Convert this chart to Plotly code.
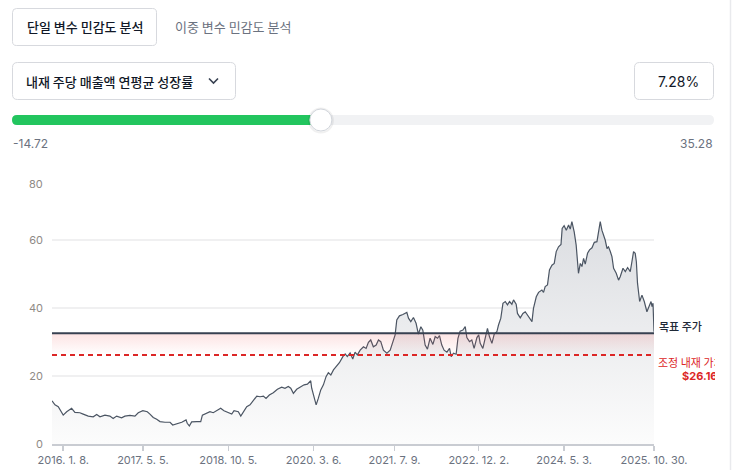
import plotly.graph_objects as go

# ---------------- data ----------------
DATES = [
    "2015-11-01", "2015-11-19", "2015-12-09", "2015-12-29", "2016-01-08", "2016-01-29", "2016-02-28",
    "2016-03-19", "2016-04-18", "2016-05-08", "2016-06-08", "2016-07-08", "2016-07-29", "2016-08-18",
    "2016-09-17", "2016-10-17", "2016-11-06", "2016-11-27", "2016-12-27", "2017-01-16", "2017-02-16",
    "2017-03-18", "2017-04-07", "2017-05-05", "2017-06-01", "2017-06-17", "2017-07-07", "2017-07-28",
    "2017-08-17", "2017-09-16", "2017-10-17", "2017-11-02", "2017-11-26", "2017-12-27", "2018-01-22",
    "2018-01-29", "2018-02-11", "2018-02-25", "2018-03-28", "2018-04-21", "2018-05-01", "2018-05-27",
    "2018-06-16", "2018-07-06", "2018-07-27", "2018-08-20", "2018-09-09", "2018-10-05", "2018-10-26",
    "2018-11-09", "2018-12-05", "2018-12-20", "2019-01-04", "2019-01-25", "2019-02-14", "2019-03-02",
    "2019-03-27", "2019-04-16", "2019-05-06", "2019-05-22", "2019-06-11", "2019-07-05", "2019-07-30",
    "2019-08-25", "2019-09-14", "2019-10-04", "2019-10-19", "2019-11-04", "2019-11-24", "2019-12-14",
    "2020-01-08", "2020-01-28", "2020-02-17", "2020-02-23", "2020-03-08", "2020-03-21", "2020-04-03",
    "2020-04-18", "2020-05-04", "2020-05-20", "2020-06-03", "2020-06-18", "2020-07-04", "2020-07-24",
    "2020-08-09", "2020-08-30", "2020-09-13", "2020-09-26", "2020-10-13", "2020-10-29", "2020-11-12",
    "2020-11-26", "2020-12-13", "2021-01-02", "2021-01-18", "2021-02-01", "2021-02-15", "2021-03-03",
    "2021-03-20", "2021-04-03", "2021-04-17", "2021-05-03", "2021-05-24", "2021-06-13", "2021-06-29",
    "2021-07-13", "2021-07-23", "2021-08-08", "2021-08-29", "2021-09-22", "2021-10-02", "2021-10-16",
    "2021-11-01", "2021-11-17", "2021-12-01", "2021-12-16", "2021-12-28", "2022-01-11", "2022-01-25",
    "2022-02-10", "2022-02-27", "2022-03-13", "2022-03-27", "2022-04-08", "2022-04-22", "2022-05-06",
    "2022-05-23", "2022-06-08", "2022-06-18", "2022-07-02", "2022-07-18", "2022-07-29", "2022-08-11",
    "2022-08-28", "2022-09-11", "2022-09-21", "2022-10-07", "2022-10-21", "2022-11-04", "2022-11-21",
    "2022-12-02", "2022-12-11", "2022-12-27", "2023-01-10", "2023-01-24", "2023-02-05", "2023-02-20",
    "2023-03-06", "2023-03-22", "2023-04-01", "2023-04-15", "2023-04-28", "2023-05-12", "2023-05-25",
    "2023-06-07", "2023-06-21", "2023-07-01", "2023-07-17", "2023-07-25", "2023-08-11", "2023-08-27",
    "2023-09-10", "2023-09-24", "2023-10-10", "2023-10-21", "2023-10-30", "2023-11-16", "2023-11-30",
    "2023-12-20", "2023-12-30", "2024-01-09", "2024-01-23", "2024-02-04", "2024-02-19", "2024-03-04",
    "2024-03-16", "2024-03-30", "2024-04-14", "2024-04-21", "2024-05-03", "2024-05-16", "2024-05-30",
    "2024-06-09", "2024-06-19", "2024-07-03", "2024-07-15", "2024-07-23", "2024-07-29", "2024-08-09",
    "2024-08-19", "2024-08-29", "2024-09-08", "2024-09-22", "2024-10-04", "2024-10-19", "2024-11-02",
    "2024-11-18", "2024-11-28", "2024-12-08", "2024-12-18", "2024-12-28", "2025-01-07", "2025-01-18",
    "2025-01-27", "2025-02-07", "2025-02-17", "2025-02-27", "2025-03-15", "2025-03-29", "2025-04-08",
    "2025-04-25", "2025-05-09", "2025-05-23", "2025-06-08", "2025-06-18", "2025-06-28", "2025-07-08",
    "2025-07-15", "2025-07-22", "2025-08-04", "2025-08-18", "2025-09-01", "2025-09-17", "2025-10-03",
    "2025-10-12", "2025-10-18", "2025-10-24", "2025-10-30",
]
PRICE = [
    12.7, 11.5, 11.0, 9.5, 8.5, 9.5, 10.5,
    9.3, 9.2, 8.8, 8.2, 8.0, 8.7, 8.0,
    8.5, 8.2, 7.5, 8.2, 7.7, 8.2, 8.4,
    8.2, 9.2, 9.8, 9.5, 8.8, 7.8, 7.3,
    6.6, 6.4, 6.4, 5.6, 5.9, 6.4, 7.1,
    6.1, 5.3, 6.5, 6.6, 6.6, 8.5, 9.0,
    9.5, 9.2, 9.8, 10.5, 9.8, 9.2, 8.8,
    9.8, 9.5, 8.2, 9.5, 11.0, 11.5, 12.5,
    14.1, 13.9, 14.1, 13.4, 14.4, 15.1, 16.1,
    16.7, 16.4, 16.9, 16.4, 14.9, 16.1, 16.7,
    17.4, 17.6, 18.6, 16.4, 13.4, 11.5, 13.4,
    15.9, 17.4, 19.8, 21.0, 20.3, 21.8, 22.9,
    23.9, 25.7, 26.5, 25.7, 26.8, 25.0, 27.0,
    26.2, 27.6, 28.6, 28.1, 29.9, 30.6, 28.6,
    29.1, 30.6, 30.1, 27.6, 26.7, 27.6, 30.1,
    32.1, 36.5, 37.7, 38.1, 38.7, 37.0, 36.0,
    37.2, 35.5, 32.3, 34.5, 33.5, 29.1, 27.9,
    31.1, 29.3, 31.6, 31.1, 31.9, 29.1, 27.6,
    27.0, 28.1, 25.7, 26.7, 26.4, 31.1, 33.2,
    33.5, 34.5, 31.3, 30.1, 30.6, 28.1, 31.3,
    32.1, 29.6, 28.1, 31.1, 34.0, 31.6, 29.6,
    32.3, 33.0, 35.0, 37.0, 41.4, 41.9, 40.9,
    41.9, 41.1, 42.4, 41.1, 38.4, 37.1, 38.4,
    38.9, 37.9, 36.5, 36.0, 39.9, 43.3, 44.6,
    45.3, 44.6, 46.3, 46.8, 51.2, 52.6, 53.1,
    56.6, 58.0, 58.7, 63.4, 64.2, 62.9, 64.4,
    63.2, 65.4, 62.4, 58.5, 52.6, 50.2, 53.1,
    52.2, 54.6, 52.9, 56.1, 57.1, 57.7, 59.3,
    59.5, 62.9, 65.4, 62.9, 61.5, 60.0, 57.5,
    58.0, 56.6, 55.1, 51.7, 50.2, 48.2, 49.2,
    51.7, 50.7, 51.9, 50.7, 53.6, 56.6, 56.1,
    53.6, 47.3, 41.9, 43.8, 41.9, 38.9, 40.9,
    41.9, 40.4, 41.4, 33.0,
]
TARGET_PRICE = 32.6
INTRINSIC_VALUE = 26.16
TARGET_LABEL = "목표 주가"
INTRINSIC_LABEL = "조정 내재 가치"
INTRINSIC_TEXT = "$26.16"

TICK_DATES = ["2016-01-08", "2017-05-05", "2018-10-05", "2020-03-06",
              "2021-07-09", "2022-12-02", "2024-05-03", "2025-10-30"]
TICK_LABELS = ["2016. 1. 8.", "2017. 5. 5.", "2018. 10. 5.", "2020. 3. 6.",
               "2021. 7. 9.", "2022. 12. 2.", "2024. 5. 3.", "2025. 10. 30."]
Y_TICKS = [0, 20, 40, 60, 80]
Y_LABELS = ["0", "20", "40", "60", "80"]

TABS = ["단일 변수 민감도 분석", "이중 변수 민감도 분석"]
VARIABLE = "내재 주당 매출액 연평균 성장률"
SLIDER_MIN, SLIDER_MAX, SLIDER_VALUE = -14.72, 35.28, 7.28

# ---------------- layout helpers (pixel -> paper) ----------------
W, H = 734, 470
PL, PR, PT, PB = 52, 654, 172, 444
FONT = "Inter, 'Noto Sans CJK KR', sans-serif"
KFONT = "'Noto Sans CJK KR', Inter, sans-serif"


def px(x):
    return (x - PL) / (PR - PL)


def py(y):
    return (PB - y) / (PB - PT)


def rrect(x0, y0, x1, y1, r):
    pts = [("M", x0 + r, y0), ("L", x1 - r, y0), ("Q", x1, y0, x1, y0 + r),
           ("L", x1, y1 - r), ("Q", x1, y1, x1 - r, y1), ("L", x0 + r, y1),
           ("Q", x0, y1, x0, y1 - r), ("L", x0, y0 + r), ("Q", x0, y0, x0 + r, y0)]
    out = []
    for p in pts:
        cmd = p[0]
        coords = p[1:]
        s = cmd + " " + " ".join(
            f"{px(coords[i]):.5f},{py(coords[i + 1]):.5f}" for i in range(0, len(coords), 2))
        out.append(s)
    return " ".join(out) + " Z"


fig = go.Figure()

# price area
fig.add_trace(go.Scatter(
    x=DATES, y=PRICE, mode="lines",
    line=dict(color="#4b5563", width=1.2),
    fill="tozeroy",
    fillgradient=dict(type="vertical",
                      colorscale=[[0, "rgb(252,252,252)"], [1, "rgb(219,221,225)"]],
                      start=0, stop=66),
    hoverinfo="skip", showlegend=False,
))

# pink band between intrinsic value and target price
fig.add_trace(go.Scatter(
    x=[DATES[0], DATES[-1]], y=[INTRINSIC_VALUE, INTRINSIC_VALUE], mode="lines",
    line=dict(width=0, color="rgba(0,0,0,0)"), hoverinfo="skip", showlegend=False,
))
fig.add_trace(go.Scatter(
    x=[DATES[0], DATES[-1]], y=[TARGET_PRICE, TARGET_PRICE], mode="lines",
    line=dict(width=0, color="rgba(0,0,0,0)"),
    fill="tonexty",
    fillgradient=dict(type="vertical",
                      colorscale=[[0, "rgba(239,68,68,0.0)"], [1, "rgba(239,68,68,0.15)"]],
                      start=INTRINSIC_VALUE, stop=TARGET_PRICE),
    hoverinfo="skip", showlegend=False,
))

# target price line
fig.add_trace(go.Scatter(
    x=[DATES[0], DATES[-1]], y=[TARGET_PRICE, TARGET_PRICE], mode="lines",
    line=dict(color="#374151", width=2), hoverinfo="skip", showlegend=False,
))
# intrinsic value dashed line
fig.add_trace(go.Scatter(
    x=[DATES[0], DATES[-1]], y=[INTRINSIC_VALUE, INTRINSIC_VALUE], mode="lines",
    line=dict(color="#dc2626", width=2, dash="5px,4px"), hoverinfo="skip", showlegend=False,
))

shapes = []
annotations = []

# --- top UI ---
shapes.append(dict(type="path", xref="paper", yref="paper", path=rrect(12.5, 8.5, 156.5, 45.5, 4),
                   line=dict(color="#d7d9de", width=1), fillcolor="white"))
annotations.append(dict(x=px(84.5), y=py(27), xref="paper", yref="paper", text=TABS[0],
                        showarrow=False, xanchor="center", yanchor="middle",
                        font=dict(family=KFONT, size=13, color="#111827", weight=500)))
annotations.append(dict(x=px(173), y=py(27), xref="paper", yref="paper", text=TABS[1],
                        showarrow=False, xanchor="left", yanchor="middle",
                        font=dict(family=KFONT, size=13, color="#6b7280")))

shapes.append(dict(type="path", xref="paper", yref="paper", path=rrect(12.5, 62.5, 235.5, 99.5, 5),
                   line=dict(color="#d7d9de", width=1), fillcolor="white"))
annotations.append(dict(x=px(24), y=py(81), xref="paper", yref="paper", text=VARIABLE,
                        showarrow=False, xanchor="left", yanchor="middle",
                        font=dict(family=KFONT, size=13, color="#111827", weight=500)))
shapes.append(dict(type="path", xref="paper", yref="paper",
                   path=f"M {px(209):.5f},{py(78.5):.5f} L {px(213.5):.5f},{py(83):.5f} L {px(218):.5f},{py(78.5):.5f}",
                   line=dict(color="#374151", width=1.6)))

shapes.append(dict(type="path", xref="paper", yref="paper", path=rrect(634.5, 62.5, 713.5, 99.5, 5),
                   line=dict(color="#d7d9de", width=1), fillcolor="white"))
annotations.append(dict(x=px(701), y=py(81), xref="paper", yref="paper", text=f"{SLIDER_VALUE:.2f}%",
                        showarrow=False, xanchor="right", yanchor="middle",
                        font=dict(family=FONT, size=14, color="#111827")))

# slider
SX0, SX1 = 12, 714
handle_x = SX0 + (SLIDER_VALUE - SLIDER_MIN) / (SLIDER_MAX - SLIDER_MIN) * (SX1 - SX0)
shapes.append(dict(type="path", xref="paper", yref="paper", path=rrect(SX0, 115, SX1, 125, 5),
                   line=dict(width=0), fillcolor="#f1f2f4"))
shapes.append(dict(type="path", xref="paper", yref="paper", path=rrect(SX0, 115, handle_x, 125, 5),
                   line=dict(width=0), fillcolor="#22c55e"))
shapes.append(dict(type="circle", xref="paper", yref="paper",
                   x0=px(handle_x - 12), x1=px(handle_x + 12), y0=py(132.5), y1=py(108.5),
                   line=dict(color="rgba(0,0,0,0.06)", width=2), fillcolor="rgba(0,0,0,0)"))
shapes.append(dict(type="circle", xref="paper", yref="paper",
                   x0=px(handle_x - 11), x1=px(handle_x + 11), y0=py(131), y1=py(109),
                   line=dict(color="#d1d5db", width=1), fillcolor="white"))
annotations.append(dict(x=px(11), y=py(144), xref="paper", yref="paper", text=f"{SLIDER_MIN:.2f}",
                        showarrow=False, xanchor="left", yanchor="middle",
                        font=dict(family=FONT, size=12, color="#6b7280")))
annotations.append(dict(x=px(715), y=py(144), xref="paper", yref="paper", text=f"{SLIDER_MAX:.2f}",
                        showarrow=False, xanchor="right", yanchor="middle",
                        font=dict(family=FONT, size=12, color="#6b7280")))

# right edge divider
shapes.append(dict(type="line", xref="paper", yref="paper", x0=px(730.5), x1=px(730.5),
                   y0=py(0), y1=py(470), line=dict(color="#e9eaed", width=1.5)))

# top y label (drawn slightly below its gridline as in the reference)
annotations.append(dict(x=px(45), y=py(184), xref="paper", yref="paper", text=Y_LABELS[-1],
                        showarrow=False, xanchor="right", yanchor="middle",
                        font=dict(family=FONT, size=11, color="#8f8a86")))

# right side labels
annotations.append(dict(x=px(657), y=TARGET_PRICE, xref="paper", yref="y", yshift=7,
                        text=TARGET_LABEL, showarrow=False, xanchor="left", yanchor="middle",
                        font=dict(family=KFONT, size=11, color="#1f2937", weight=500)))
annotations.append(dict(x=px(656), y=INTRINSIC_VALUE, xref="paper", yref="y", yshift=-7,
                        text=INTRINSIC_LABEL, showarrow=False, xanchor="left", yanchor="middle",
                        width=57, align="left",
                        font=dict(family=KFONT, size=11, color="#dc2626")))
annotations.append(dict(x=px(680), y=INTRINSIC_VALUE, xref="paper", yref="y", yshift=-21,
                        text=f"<b>{INTRINSIC_TEXT}</b>", showarrow=False, xanchor="left", yanchor="middle",
                        width=33, align="left",
                        font=dict(family=FONT, size=11, color="#dc2626")))

fig.update_layout(
    width=W, height=H, autosize=False,
    margin=dict(l=PL, r=W - PR, t=PT, b=H - PB, pad=0, autoexpand=False),
    paper_bgcolor="white", plot_bgcolor="white",
    shapes=shapes, annotations=annotations,
    showlegend=False, hovermode=False,
    font=dict(family=FONT),
    xaxis=dict(
        type="date", range=[DATES[0], DATES[-1]],
        tickvals=TICK_DATES, ticktext=TICK_LABELS,
        ticks="outside", ticklen=5, tickwidth=1.5, tickcolor="#c9ccd2",
        showline=True, linecolor="#c9ccd2", linewidth=2,
        showgrid=False, zeroline=False, automargin=False,
        tickfont=dict(family=FONT, size=11, color="#6b7280"),
        fixedrange=True,
    ),
    yaxis=dict(
        range=[0, 80], tickvals=Y_TICKS, ticktext=Y_LABELS[:-1] + [""],
        showgrid=True, gridcolor="#f0f0f1", gridwidth=1.5,
        zeroline=False, showline=False, ticks="", automargin=False,
        ticklabelstandoff=8,
        tickfont=dict(family=FONT, size=11, color="#8f8a86"),
        fixedrange=True,
    ),
)

fig.write_html("out.html", config={"displayModeBar": False, "staticPlot": True})
